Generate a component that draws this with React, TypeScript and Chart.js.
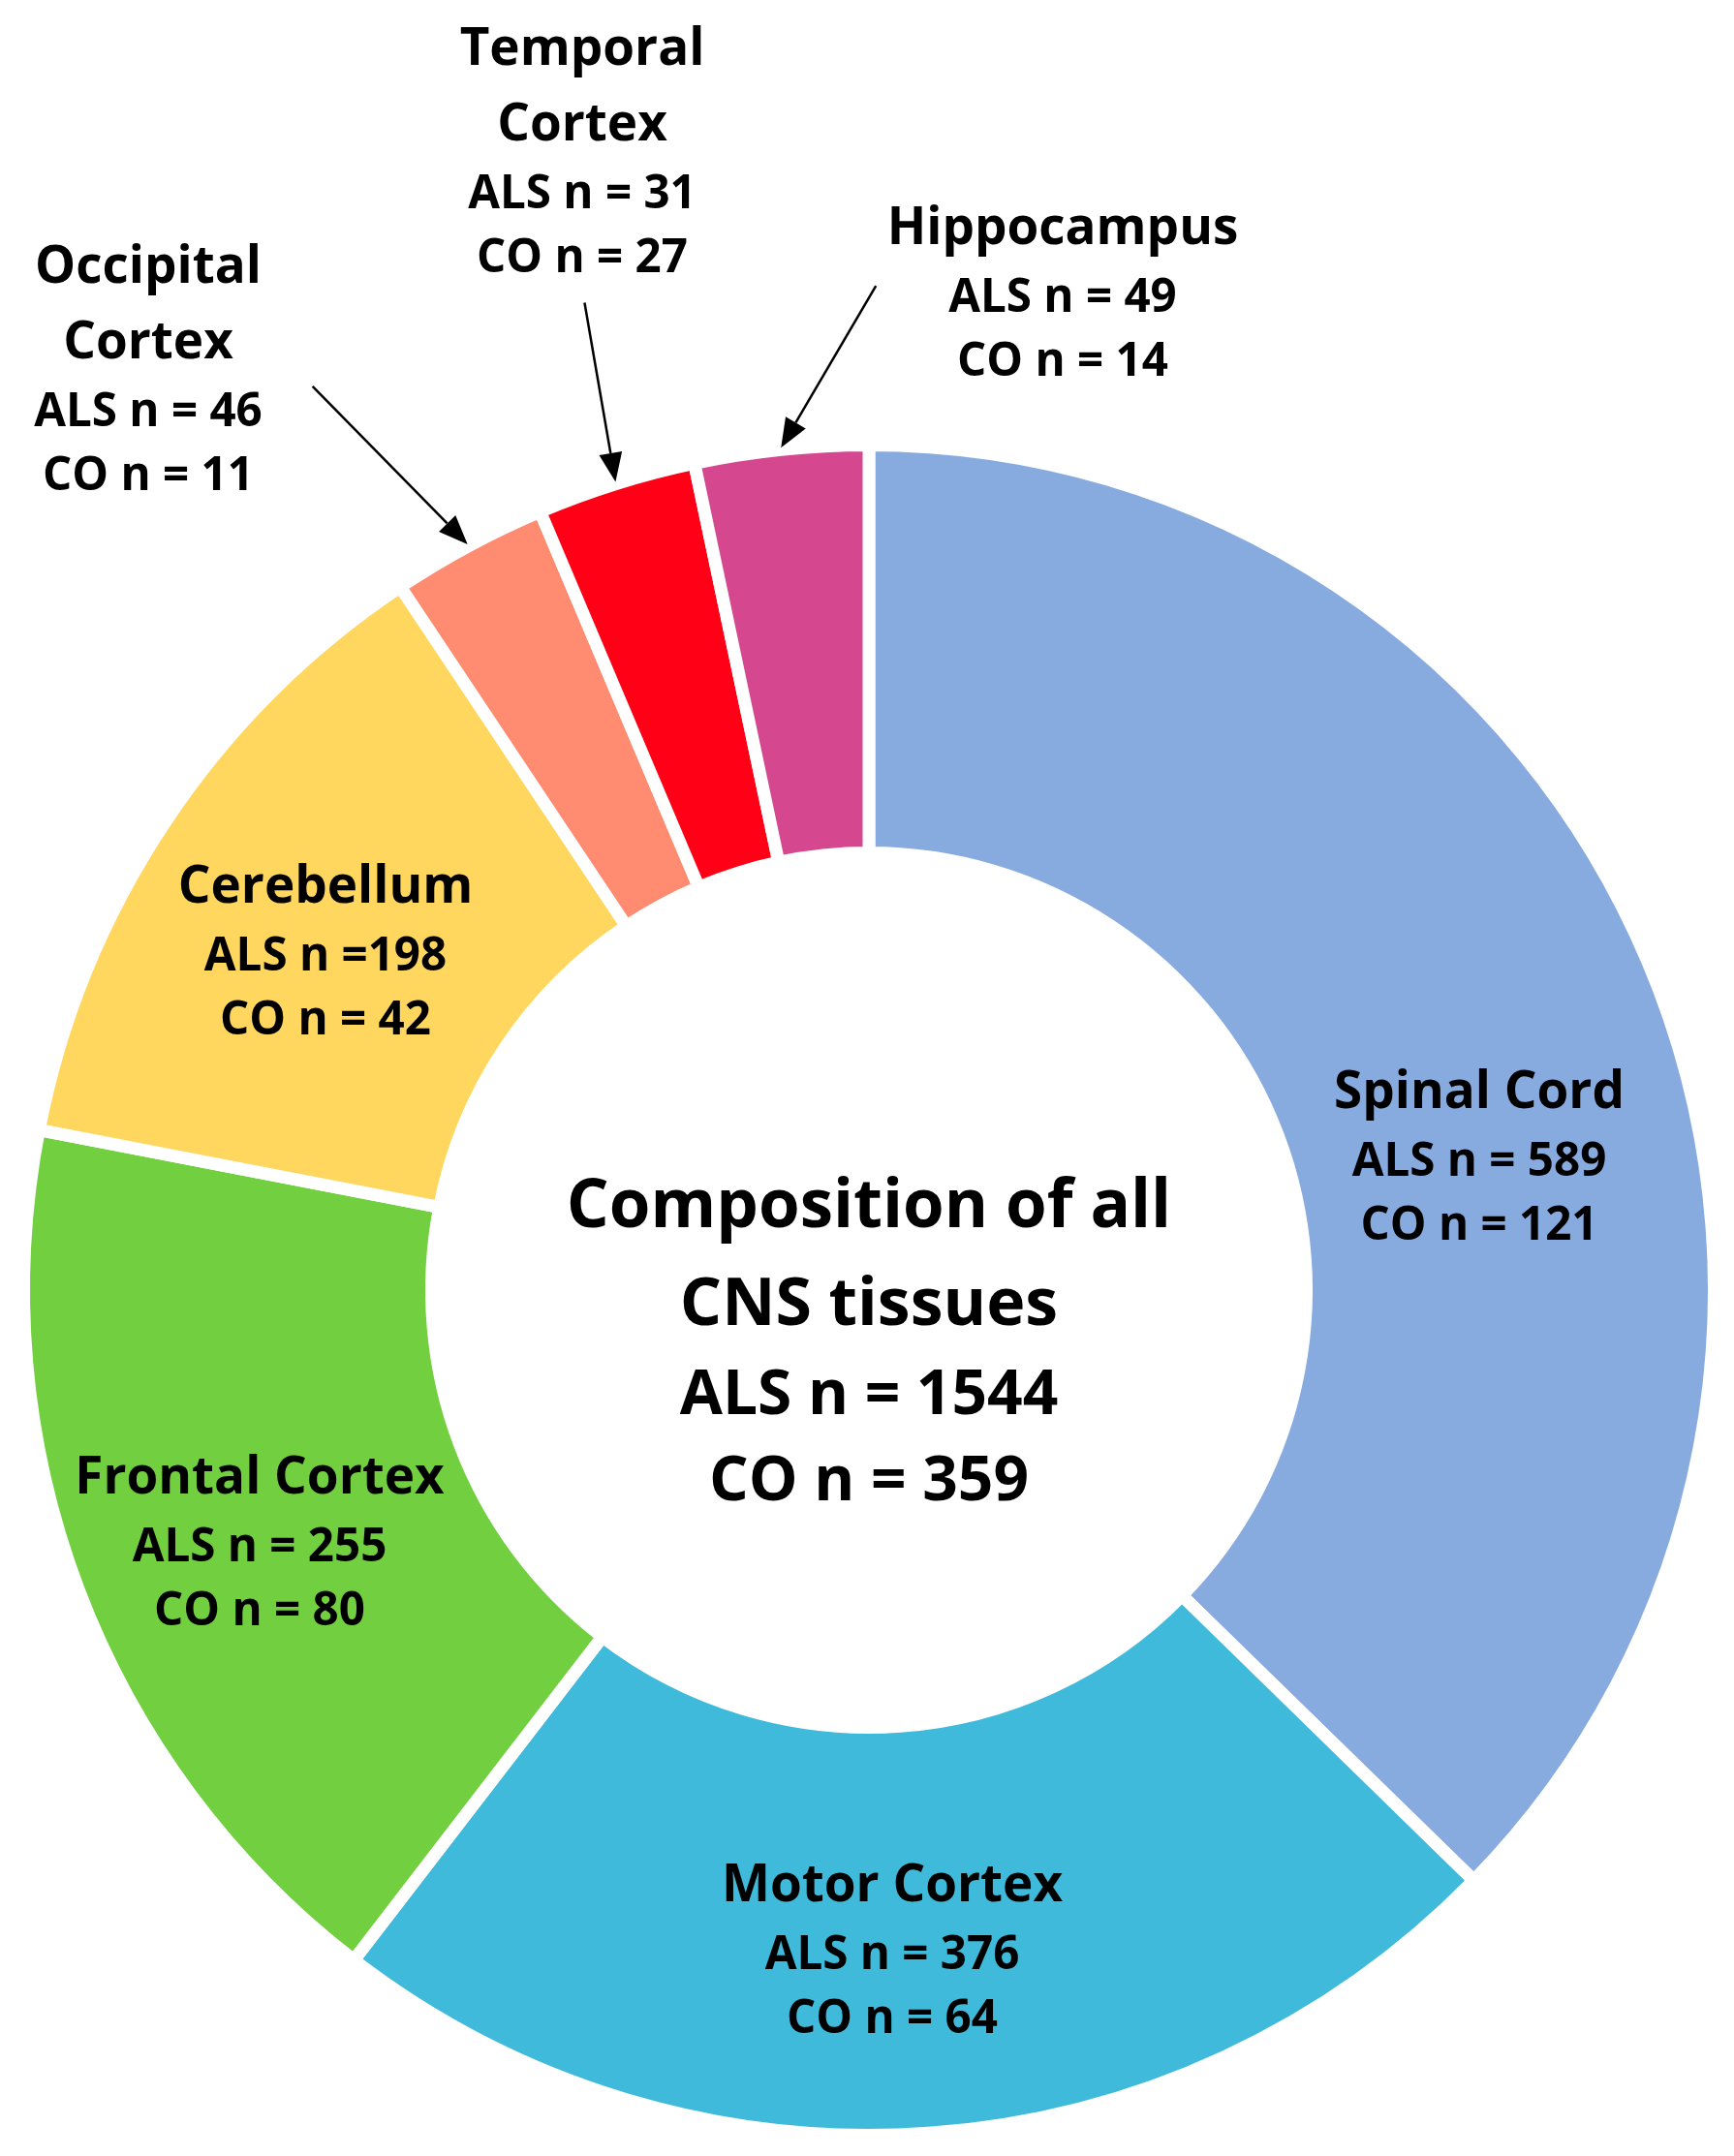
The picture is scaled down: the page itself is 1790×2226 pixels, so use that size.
import React, { useEffect, useRef } from 'react';
import { Chart, registerables } from 'chart.js';

Chart.register(...registerables);

// ---- data ----
const TISSUES = ['Spinal Cord', 'Motor Cortex', 'Frontal Cortex', 'Cerebellum', 'Occipital Cortex', 'Temporal Cortex', 'Hippocampus'];
const NAME_LINES = [['Spinal Cord'], ['Motor Cortex'], ['Frontal Cortex'], ['Cerebellum'], ['Occipital', 'Cortex'], ['Temporal', 'Cortex'], ['Hippocampus']];
const ALS_N = [589, 376, 255, 198, 46, 31, 49];
const CO_N = [121, 64, 80, 42, 11, 27, 14];
const COLORS = ['#87ABDF', '#40BADA', '#72D040', '#FFD75E', '#FF8B71', '#FF0016', '#D5488F'];
const CENTER_TITLE = ['Composition of all', 'CNS tissues'];

// ---- label layout (offsets from the chart centre, px) ----
const LABEL_POS = [
  { dx: 630, dy: -188 },
  { dx: 24, dy: 631 },
  { dx: -629, dy: 210 },
  { dx: -561, dy: -400 },
  { dx: -744, dy: -1040 },
  { dx: -296, dy: -1265 },
  { dx: 200, dy: -1080 },
];
// arrows for the small outside-labelled segments: tail offset from arrow tip
const ARROWS = [
  { index: 4, tdx: -160, tdy: -163 },
  { index: 5, tdx: -32, tdy: -185 },
  { index: 6, tdx: 98, tdy: -167 },
];

const FONT = '"Open Sans", "DejaVu Sans", sans-serif';
const NAME_SIZE = 53;
const N_SIZE = 47.5;

function alsText(i: number) {
  return i === 3 ? `ALS n =${ALS_N[i]}` : `ALS n = ${ALS_N[i]}`;
}

const labelPlugin = {
  id: 'cnsLabels',
  afterDatasetsDraw(chart: any) {
    const ctx = chart.ctx as CanvasRenderingContext2D;
    const meta = chart.getDatasetMeta(0);
    const arc0 = meta.data[0];
    const cx = arc0.x;
    const cy = arc0.y;
    const R = arc0.outerRadius;
    ctx.save();
    ctx.fillStyle = '#000';
    ctx.textAlign = 'center';
    ctx.textBaseline = 'alphabetic';

    // segment labels
    TISSUES.forEach((_, i) => {
      const pos = LABEL_POS[i];
      const x = cx + pos.dx;
      let y = cy + pos.dy;
      const names = NAME_LINES[i];
      names.forEach((t, k) => {
        if (k > 0) y += 78;
        ctx.font = `bold ${NAME_SIZE}px ${FONT}`;
        ctx.fillText(t, x, y);
      });
      y += 70;
      ctx.font = `bold ${N_SIZE}px ${FONT}`;
      ctx.fillText(alsText(i), x, y);
      y += 66;
      ctx.fillText(`CO n = ${CO_N[i]}`, x, y);
    });

    // centre text
    const totalAls = ALS_N.reduce((a, b) => a + b, 0);
    const totalCo = CO_N.reduce((a, b) => a + b, 0);
    const centre = [
      { t: CENTER_TITLE[0], s: 69, dy: -65 },
      { t: CENTER_TITLE[1], s: 68, dy: 36 },
      { t: `ALS n = ${totalAls}`, s: 64, dy: 128 },
      { t: `CO n = ${totalCo}`, s: 64, dy: 217 },
    ];
    centre.forEach((c) => {
      ctx.font = `bold ${c.s}px ${FONT}`;
      ctx.fillText(c.t, cx, cy + c.dy);
    });

    // arrows
    ctx.strokeStyle = '#000';
    ctx.lineWidth = 2.5;
    ARROWS.forEach((a) => {
      const el = meta.data[a.index];
      const mid = (el.startAngle + el.endAngle) / 2;
      const tipX = cx + Math.cos(mid) * (R + 2);
      const tipY = cy + Math.sin(mid) * (R + 2);
      const tailX = tipX + a.tdx;
      const tailY = tipY + a.tdy;
      const len = Math.hypot(a.tdx, a.tdy);
      const ux = -a.tdx / len;
      const uy = -a.tdy / len;
      const headL = 30;
      const headW = 12;
      const bx = tipX - ux * headL;
      const by = tipY - uy * headL;
      ctx.beginPath();
      ctx.moveTo(tailX, tailY);
      ctx.lineTo(bx, by);
      ctx.stroke();
      ctx.beginPath();
      ctx.moveTo(tipX, tipY);
      ctx.lineTo(bx - uy * headW, by + ux * headW);
      ctx.lineTo(bx + uy * headW, by - ux * headW);
      ctx.closePath();
      ctx.fill();
    });
    ctx.restore();
  },
};

export default function App() {
  const ref = useRef<HTMLCanvasElement | null>(null);
  useEffect(() => {
    let chart: Chart | null = null;
    let cancelled = false;
    const build = () => {
      if (cancelled || !ref.current) return;
      chart = new Chart(ref.current, {
        type: 'doughnut',
        data: {
          labels: TISSUES,
          datasets: [
            {
              data: ALS_N.map((v, i) => v + CO_N[i]),
              backgroundColor: COLORS,
              borderColor: '#ffffff',
              borderWidth: 13,
              hoverOffset: 0,
            },
          ],
        },
        options: {
          animation: false,
          responsive: true,
          maintainAspectRatio: false,
          cutout: '51.75%',
          layout: { padding: { left: 18, right: 14, top: 453, bottom: 15 } },
          plugins: {
            legend: { display: false },
            tooltip: { enabled: false },
            title: { display: false },
          },
          events: [],
        },
        plugins: [labelPlugin],
      });
    };
    const fonts: any = (document as any).fonts;
    if (fonts && fonts.load) {
      Promise.all([fonts.load(`bold 53px "Open Sans"`), fonts.load(`bold 69px "Open Sans"`)])
        .catch(() => null)
        .then(() => build());
    } else {
      build();
    }
    return () => {
      cancelled = true;
      if (chart) chart.destroy();
    };
  }, []);
  return (
    <div style={{ position: 'absolute', left: 0, top: 0, width: 1790, height: 2226, background: '#fff' }}>
      <canvas ref={ref} style={{ width: 1790, height: 2226 }} />
    </div>
  );
}
